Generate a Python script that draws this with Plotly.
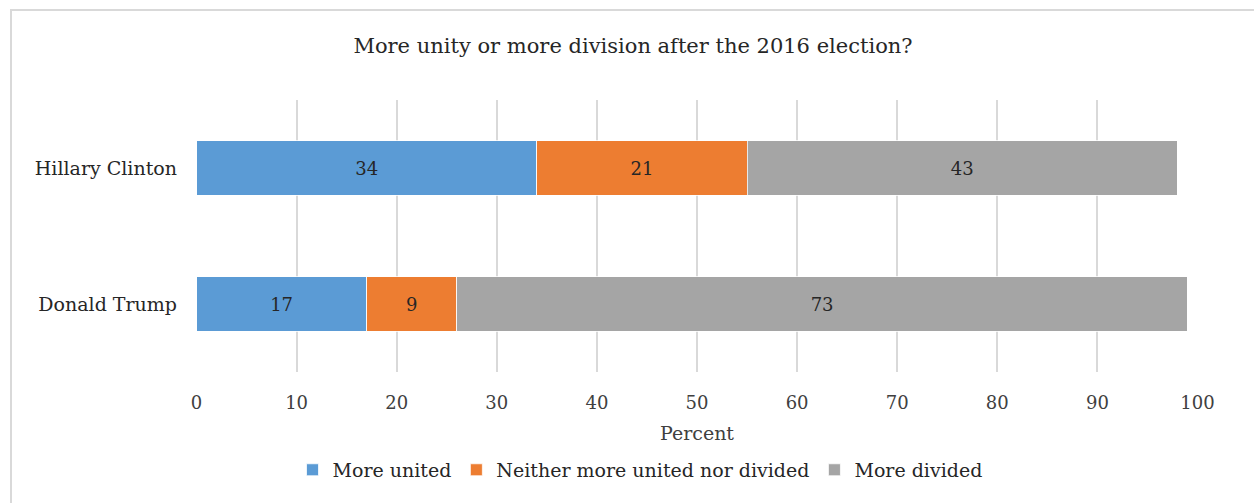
import plotly.graph_objects as go

candidates = ["Hillary Clinton", "Donald Trump"]
more_united = [34, 17]
neither = [21, 9]
more_divided = [43, 73]
series_names = ["More united", "Neither more united nor divided", "More divided"]
series_colors = ["#5B9BD5", "#ED7D31", "#A5A5A5"]
tick_vals = [0, 10, 20, 30, 40, 50, 60, 70, 80, 90, 100]

FONT = "DejaVu Serif"
TEXT_COLOR = "#262626"
AXIS_COLOR = "#404040"
GRID_COLOR = "#D9D9D9"

fig = go.Figure()
for name, vals, color in zip(series_names, [more_united, neither, more_divided], series_colors):
    fig.add_trace(go.Bar(
        y=candidates, x=vals, name=name, orientation="h",
        marker=dict(color=color, line=dict(color="white", width=0.75)),
        text=[str(v) for v in vals], textposition="inside",
        insidetextanchor="middle",
        textfont=dict(family=FONT, size=18, color=TEXT_COLOR),
        width=0.4,
        hoverinfo="x+name",
    ))

fig.update_layout(
    barmode="stack",
    width=1254, height=503,
    margin=dict(l=196, r=56, t=100, b=131),
    paper_bgcolor="white", plot_bgcolor="white",
    font=dict(family=FONT, color=TEXT_COLOR, size=18),
    title=dict(text="More unity or more division after the 2016 election?",
               x=633 / 1254, xref="container", xanchor="center",
               y=1 - 46 / 503, yanchor="middle",
               font=dict(family=FONT, size=21, color=TEXT_COLOR)),
    xaxis=dict(range=[-0.05, 100.05], tickvals=tick_vals, showgrid=True,
               gridcolor=GRID_COLOR, gridwidth=1.5, zeroline=False,
               showline=False, ticks="", ticklen=0, ticklabelstandoff=18,
               tickfont=dict(family=FONT, size=18, color=AXIS_COLOR),
               title=dict(text="Percent", standoff=14,
                          font=dict(family=FONT, size=19, color=AXIS_COLOR))),
    yaxis=dict(categoryorder="array", categoryarray=candidates[::-1],
               showgrid=False, showline=False, ticks="", ticklabelstandoff=18,
               tickfont=dict(family=FONT, size=19, color=TEXT_COLOR)),
    legend=dict(orientation="h", x=(640 - 196) / 1002, xanchor="center",
                y=-0.36, yanchor="middle",
                font=dict(family=FONT, size=19, color=TEXT_COLOR),
                traceorder="normal", itemwidth=30),
    showlegend=True,
    bargap=0.6,
)

# outer chart frame
fig.add_shape(type="rect", xref="paper", yref="paper",
              x0=(11 - 196) / 1002, x1=(1262 - 196) / 1002,
              y0=(372 - 512) / 272, y1=(372 - 10) / 272,
              line=dict(color=GRID_COLOR, width=2), fillcolor="rgba(0,0,0,0)", layer="below")

fig.write_html("out.html")
